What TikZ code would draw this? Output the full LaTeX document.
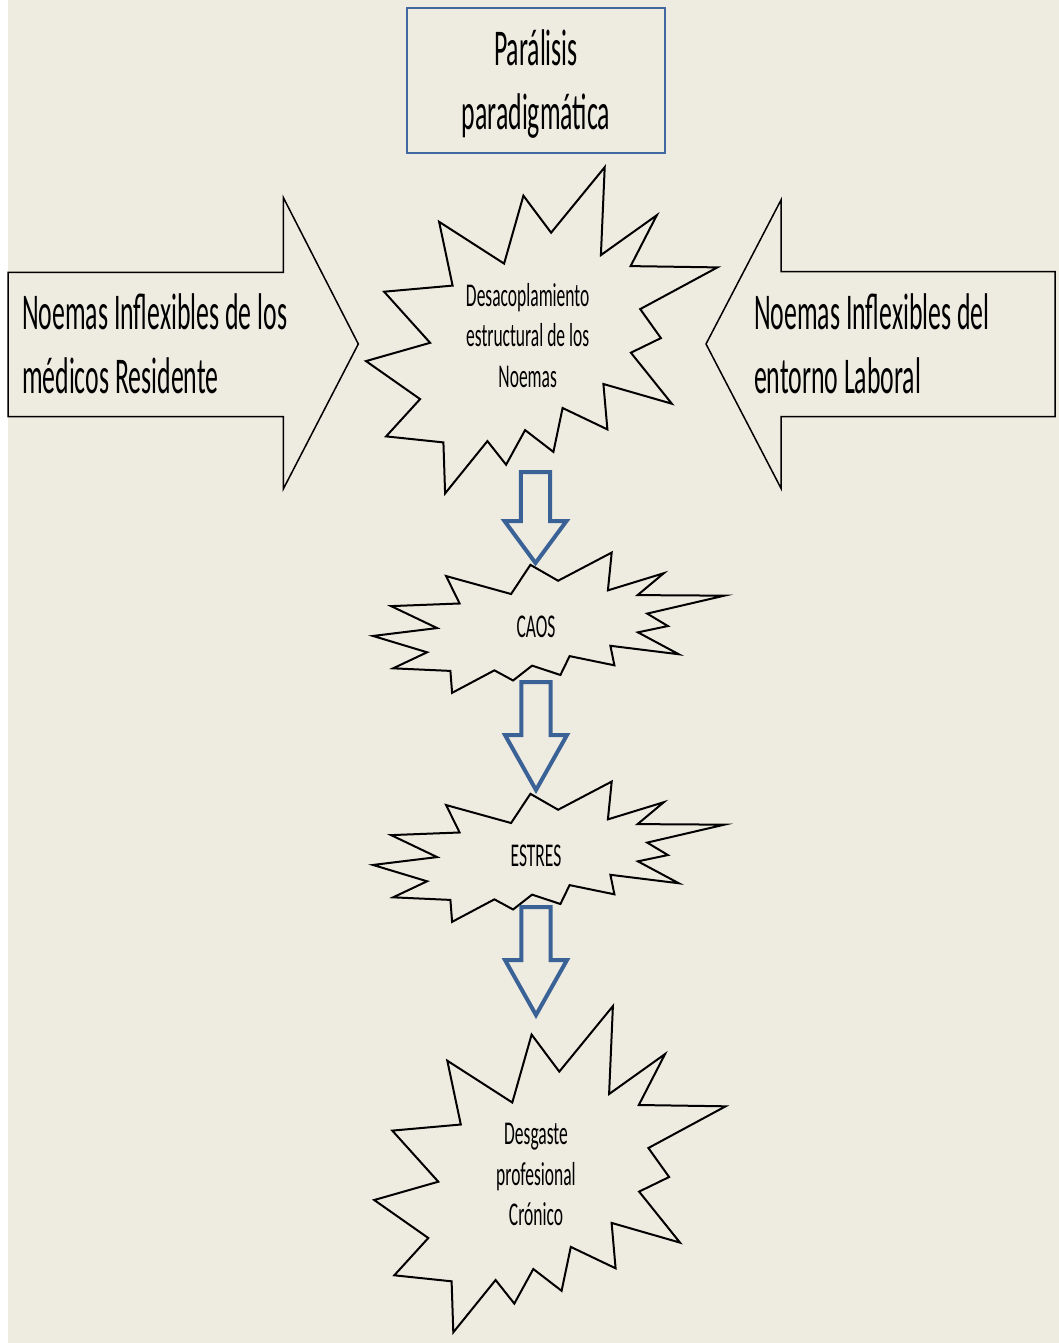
\documentclass[tikz,border=0pt]{standalone}
\usepackage{fontspec}
\setmainfont{Carlito}
\usepackage{graphicx}

\definecolor{paper}{HTML}{EEECE1}
\definecolor{flowblue}{HTML}{3B6296}
\definecolor{boxblue}{HTML}{41699F}

% tall, narrow lettering
\newcommand\bigtxt[2][c]{\scalebox{1}[2.0]{\fontsize{12.9}{15.85}\selectfont\begin{tabular}{@{}#1@{}}#2\end{tabular}}}
\newcommand\smalltxt[1]{\scalebox{1}[1.9]{\fontsize{8.75}{10.6}\selectfont\begin{tabular}{@{}c@{}}#1\end{tabular}}}

\tikzset{
  burstline/.style={draw=black, line width=1pt, fill=paper, line join=miter},
  sidearrow/.style={draw=black, line width=0.75pt, fill=paper, line join=miter},
  flowarrow/.style={draw=flowblue, line width=2pt, fill=paper, line join=miter},
  titlebox/.style={draw=boxblue, line width=1pt, fill=paper},
  label/.style={inner sep=0pt, outer sep=0pt, text=black},
  % explosion outline, centred on the origin
  burst/.pic={
    \path[burstline]
      (-102.6,-108.5) -- (-37.6,-66.7) -- (-18.3,-134.6) -- (9.4,-97.6)
      -- (63,-163.1) -- (59.2,-75.2) -- (115.1,-115.1) -- (88.9,-64.2)
      -- (175.7,-62.9) -- (98.5,-21.2) -- (119.2,7.8) -- (89.2,22.4)
      -- (130.1,73.4) -- (61.7,53.7) -- (65.7,99.1) -- (20.9,77.7)
      -- (11.7,121.6) -- (-16.6,99.8) -- (-35.6,134.4) -- (-54.3,110.8)
      -- (-96.6,163.1) -- (-98.3,112.1) -- (-155.6,106.1) -- (-121.6,68.8)
      -- (-175.7,30.8) -- (-111.6,12.5) -- (-157.6,-38.6) -- (-89.1,-44.7)
      -- cycle;
  },
  % hollow down arrow, tip at the origin
  downarrow/.pic={
    \path[flowarrow]
      (0,0) -- (-31,-\pgfkeysvalueof{/tikz/arrowhead})
      -- (-14.7,-\pgfkeysvalueof{/tikz/arrowhead})
      -- (-14.7,-\pgfkeysvalueof{/tikz/arrowlen})
      -- (14.7,-\pgfkeysvalueof{/tikz/arrowlen})
      -- (14.7,-\pgfkeysvalueof{/tikz/arrowhead})
      -- (31,-\pgfkeysvalueof{/tikz/arrowhead}) -- cycle;
  },
  arrowhead/.initial=54,
  arrowlen/.initial=108,
}

\begin{document}
\begin{tikzpicture}[x=0.5pt, y=-0.5pt]
  \useasboundingbox (0,0) rectangle (1059,1343);
  \fill[paper] (0,0) rectangle (1059,1343);
  \fill[white] (0,0) rectangle (8,1343);

  % title box
  \path[titlebox] (407,8) rectangle (665,153);
  \node[label] (titulo) at (536,85)
    {\bigtxt{Parálisis\\paradigmática}};

  % side block arrows
  \path[sidearrow] (8,272.3) -- (283.3,272.3) -- (283.3,197.5) -- (358.3,344)
    -- (283.3,489) -- (283.3,416.7) -- (8,416.7) -- cycle;
  \path[sidearrow] (1055,271.7) -- (781,271.7) -- (781,200) -- (706,344)
    -- (781,488.3) -- (781,416.7) -- (1055,416.7) -- cycle;
  \node[label, anchor=west] (izq) at (22,349)
    {\bigtxt[l]{Noemas Inflexibles de los\\médicos Residente}};
  \node[label, anchor=west] (der) at (754,349)
    {\bigtxt[l]{Noemas Inflexibles del\\entorno Laboral}};

  % explosions
  \pic at (541.7,330.3) {burst};
  \pic[yscale=0.43] at (548.7,622.7) {burst};
  \pic[yscale=0.43] at (548.7,851.7) {burst};
  \pic at (549.9,1169.2) {burst};

  \node[label] (desac) at (527.7,338.9)
    {\smalltxt{Desacoplamiento\\estructural de los\\Noemas}};
  \node[label] (caos) at (536,629) {\smalltxt{CAOS}};
  \node[label] (estres) at (536,858) {\smalltxt{ESTRES}};
  \node[label] (desgaste) at (536,1177)
    {\smalltxt{Desgaste\\profesional\\Crónico}};

  % flow arrows between the stages
  \coordinate (tip1) at (535.5,563);
  \coordinate (tip2) at (536,790);
  \coordinate (tip3) at (536,1015);
  \pic[arrowhead=42, arrowlen=91] at (tip1) {downarrow};
  \pic[arrowhead=55, arrowlen=108] at (tip2) {downarrow};
  \pic[arrowhead=55, arrowlen=108] at (tip3) {downarrow};
\end{tikzpicture}
\end{document}
